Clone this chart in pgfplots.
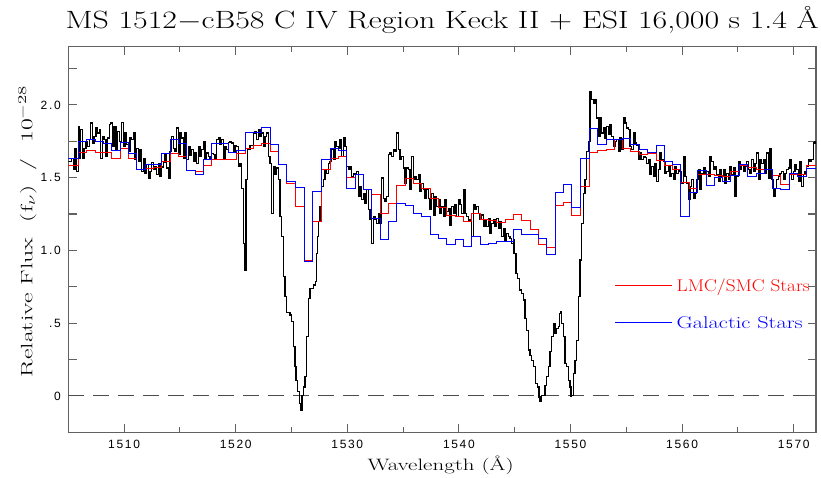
\documentclass[border=0pt]{standalone}
\usepackage{fontspec}
\usepackage{graphicx}
\usepackage{pgfplots}
\pgfplotsset{compat=1.18}
\usetikzlibrary{calc}
\newfontfamily\tickfont[LetterSpace=14]{Liberation Sans}
\begin{document}
\begin{tikzpicture}
\begin{axis}[name=ax, scale only axis, width=747.7bp, height=385.6bp,
 xmin=1505, xmax=1572, ymin=-0.25, ymax=2.4,
 axis line style={draw=black!62, line width=1.2bp},
 tick align=inside,
 xtick={1510,1520,1530,1540,1550,1560,1570},
 xticklabels={1510,1520,1530,1540,1550,1560,1570},
 minor xtick={1505,1515,1525,1535,1545,1555,1565},
 ytick={-0.25,0,0.25,0.5,0.75,1,1.25,1.5,1.75,2,2.25},
 yticklabels={,0,,.5,,1.0,,1.5,,2.0,},
 major tick length=8.5bp, minor tick length=5.5bp,
 every tick/.style={black!62, line width=1.1bp},
 ticklabel style={font=\tickfont\fontsize{12bp}{12bp}\selectfont},
 xticklabel style={yshift=-4bp},
 yticklabel style={xshift=-4bp},
]
\addplot[black!70, dash pattern=on 16bp off 9bp, line width=1bp, forget plot] coordinates {(1505,0)(1572,0)};
\addplot[black, line width=1.2bp, const plot, forget plot] coordinates {
(1505.00,1.612)(1505.30,1.634)(1505.45,1.554)(1505.60,1.703)(1505.75,1.543)(1505.90,1.853)(1505.99,1.634)(1506.11,1.830)(1506.29,1.634)(1506.41,1.703)(1506.59,1.749)(1506.71,1.715)(1506.88,1.761)(1507.00,1.876)(1507.15,1.738)(1507.30,1.784)(1507.48,1.841)(1507.60,1.807)(1507.78,1.830)(1507.90,1.634)(1508.08,1.784)(1508.20,1.761)(1508.38,1.646)(1508.50,1.772)(1508.68,1.864)(1508.80,1.876)(1508.98,1.715)(1509.09,1.853)(1509.27,1.692)(1509.39,1.818)(1509.57,1.749)(1509.78,1.880)(1509.93,1.715)(1510.08,1.807)(1510.23,1.726)(1510.38,1.680)(1510.53,1.772)(1510.68,1.761)(1510.83,1.807)(1510.98,1.623)(1511.13,1.703)(1511.27,1.612)(1511.42,1.692)(1511.57,1.543)(1511.72,1.628)(1511.87,1.531)(1512.02,1.589)(1512.17,1.497)(1512.32,1.543)(1512.47,1.605)(1512.62,1.559)(1512.77,1.577)(1512.92,1.520)(1513.07,1.600)(1513.22,1.508)(1513.37,1.573)(1513.52,1.605)(1513.66,1.657)(1513.81,1.566)(1513.96,1.497)(1514.11,1.680)(1514.26,1.784)(1514.41,1.703)(1514.56,1.680)(1514.71,1.841)(1514.86,1.657)(1515.01,1.811)(1515.16,1.772)(1515.31,1.634)(1515.46,1.807)(1515.61,1.623)(1515.76,1.715)(1515.91,1.651)(1516.05,1.692)(1516.20,1.612)(1516.35,1.669)(1516.50,1.600)(1516.65,1.715)(1516.80,1.646)(1516.95,1.692)(1517.10,1.749)(1517.25,1.623)(1517.40,1.669)(1517.55,1.646)(1517.70,1.623)(1517.85,1.664)(1517.99,1.657)(1518.14,1.634)(1518.29,1.761)(1518.44,1.772)(1518.59,1.726)(1518.74,1.761)(1518.89,1.634)(1519.04,1.715)(1519.19,1.692)(1519.34,1.742)(1519.49,1.749)(1519.64,1.738)(1519.79,1.680)(1519.94,1.719)(1520.09,1.715)(1520.24,1.577)(1520.39,1.600)(1520.54,1.428)(1520.68,1.049)(1520.77,0.865)(1520.92,1.485)(1521.04,1.692)(1521.28,1.719)(1521.58,1.807)(1521.73,1.818)(1521.88,1.761)(1522.03,1.830)(1522.18,1.784)(1522.33,1.807)(1522.48,1.715)(1522.63,1.784)(1522.77,1.807)(1522.92,1.646)(1523.07,1.600)(1523.22,1.256)(1523.37,1.577)(1523.52,1.520)(1523.67,1.566)(1523.82,1.485)(1523.97,1.233)(1524.12,1.095)(1524.27,0.820)(1524.42,0.682)(1524.57,0.572)(1524.87,0.556)(1525.02,0.510)(1525.16,0.338)(1525.31,0.200)(1525.40,0.108)(1525.52,0.028)(1525.70,-0.052)(1525.82,-0.098)(1525.94,0.005)(1526.06,0.062)(1526.21,0.131)(1526.36,0.407)(1526.51,0.671)(1526.66,0.739)(1526.96,0.762)(1527.17,0.785)(1527.26,0.980)(1527.35,1.095)(1527.45,1.198)(1527.55,1.302)(1527.70,1.439)(1527.85,1.485)(1528.00,1.554)(1528.15,1.531)(1528.30,1.600)(1528.45,1.612)(1528.60,1.692)(1528.75,1.623)(1528.90,1.749)(1529.05,1.715)(1529.19,1.700)(1529.34,1.761)(1529.49,1.646)(1529.64,1.772)(1529.79,1.715)(1529.94,1.577)(1530.09,1.554)(1530.24,1.577)(1530.39,1.508)(1530.54,1.531)(1530.69,1.520)(1530.84,1.540)(1530.99,1.370)(1531.14,1.439)(1531.29,1.348)(1531.43,1.393)(1531.58,1.325)(1531.73,1.416)(1531.88,1.279)(1532.03,1.210)(1532.18,1.049)(1532.33,1.233)(1532.48,1.210)(1532.63,1.187)(1532.78,1.256)(1532.93,1.187)(1533.08,1.497)(1533.23,1.359)(1533.38,1.336)(1533.53,1.370)(1533.68,1.657)(1533.82,1.669)(1533.97,1.646)(1534.12,1.692)(1534.27,1.680)(1534.42,1.807)(1534.57,1.692)(1534.72,1.623)(1534.87,1.646)(1535.02,1.566)(1535.17,1.462)(1535.32,1.566)(1535.47,1.554)(1535.62,1.416)(1535.77,1.646)(1535.92,1.485)(1536.06,1.508)(1536.21,1.485)(1536.36,1.520)(1536.51,1.405)(1536.66,1.462)(1536.81,1.416)(1536.96,1.359)(1537.11,1.416)(1537.26,1.359)(1537.41,1.279)(1537.56,1.393)(1537.71,1.244)(1537.86,1.370)(1538.01,1.302)(1538.16,1.348)(1538.30,1.256)(1538.45,1.302)(1538.60,1.233)(1538.75,1.348)(1538.90,1.267)(1539.05,1.290)(1539.20,1.175)(1539.35,1.302)(1539.50,1.256)(1539.65,1.313)(1539.80,1.233)(1539.95,1.348)(1540.10,1.313)(1540.25,1.256)(1540.40,1.416)(1540.55,1.256)(1540.69,1.233)(1540.84,1.198)(1540.99,1.210)(1541.14,1.095)(1541.29,1.313)(1541.44,1.279)(1541.59,1.302)(1541.74,1.256)(1541.89,1.210)(1542.04,1.244)(1542.19,1.164)(1542.34,1.210)(1542.49,1.164)(1542.64,1.221)(1542.79,1.118)(1542.94,1.187)(1543.09,1.210)(1543.23,1.164)(1543.38,1.221)(1543.53,1.152)(1543.68,1.198)(1543.83,1.095)(1543.98,1.152)(1544.13,1.072)(1544.28,1.118)(1544.43,1.095)(1544.58,1.080)(1544.73,1.049)(1544.88,1.072)(1544.94,0.980)(1545.12,0.843)(1545.24,0.808)(1545.42,0.728)(1545.63,0.705)(1545.78,0.659)(1545.93,0.533)(1546.08,0.452)(1546.23,0.315)(1546.37,0.280)(1546.52,0.246)(1546.67,0.200)(1546.88,0.085)(1547.03,0.062)(1547.18,-0.007)(1547.27,-0.041)(1547.42,0.005)(1547.57,0.005)(1547.72,0.074)(1547.87,0.131)(1548.02,0.200)(1548.17,0.303)(1548.32,0.406)(1548.47,0.498)(1548.61,0.429)(1548.76,0.464)(1548.91,0.475)(1549.00,0.567)(1549.12,0.579)(1549.21,0.498)(1549.36,0.406)(1549.51,0.223)(1549.66,0.200)(1549.81,0.108)(1549.96,0.062)(1550.04,0.000)(1550.11,0.005)(1550.26,0.154)(1550.41,0.246)(1550.56,0.383)(1550.71,0.682)(1550.85,0.934)(1551.00,1.187)(1551.15,1.393)(1551.30,1.485)(1551.45,1.680)(1551.60,1.749)(1551.75,2.094)(1551.90,2.036)(1552.05,2.013)(1552.20,2.036)(1552.35,1.910)(1552.49,1.784)(1552.64,1.910)(1552.79,1.807)(1552.94,1.841)(1553.09,1.772)(1553.24,1.853)(1553.39,1.795)(1553.54,1.864)(1553.69,1.784)(1553.84,1.715)(1553.99,1.749)(1554.14,1.761)(1554.29,1.680)(1554.44,1.772)(1554.59,1.692)(1554.73,1.910)(1554.88,1.876)(1555.03,1.841)(1555.18,1.830)(1555.33,1.715)(1555.48,1.692)(1555.63,1.807)(1555.78,1.738)(1555.93,1.720)(1556.08,1.623)(1556.23,1.669)(1556.38,1.623)(1556.53,1.646)(1556.68,1.640)(1556.83,1.600)(1556.98,1.623)(1557.12,1.520)(1557.27,1.577)(1557.42,1.508)(1557.57,1.600)(1557.72,1.474)(1557.87,1.554)(1558.02,1.669)(1558.17,1.623)(1558.32,1.612)(1558.47,1.531)(1558.62,1.543)(1558.77,1.577)(1558.92,1.508)(1559.07,1.531)(1559.22,1.485)(1559.36,1.577)(1559.51,1.531)(1559.66,1.554)(1559.81,1.543)(1559.96,1.462)(1560.11,1.646)(1560.26,1.508)(1560.41,1.462)(1560.56,1.348)(1560.71,1.439)(1560.86,1.485)(1561.01,1.359)(1561.16,1.393)(1561.31,1.485)(1561.46,1.554)(1561.60,1.416)(1561.75,1.531)(1561.90,1.566)(1562.05,1.531)(1562.20,1.543)(1562.35,1.508)(1562.50,1.646)(1562.65,1.612)(1562.80,1.554)(1562.95,1.577)(1563.10,1.520)(1563.25,1.474)(1563.40,1.554)(1563.55,1.508)(1563.70,1.554)(1563.85,1.462)(1564.00,1.531)(1564.14,1.485)(1564.29,1.577)(1564.44,1.520)(1564.59,1.566)(1564.74,1.370)(1564.89,1.508)(1565.04,1.612)(1565.19,1.554)(1565.34,1.589)(1565.49,1.543)(1565.64,1.577)(1565.79,1.612)(1565.94,1.554)(1566.09,1.531)(1566.23,1.623)(1566.38,1.543)(1566.53,1.600)(1566.68,1.669)(1566.83,1.485)(1566.98,1.623)(1567.13,1.600)(1567.28,1.623)(1567.43,1.531)(1567.58,1.669)(1567.73,1.497)(1567.88,1.703)(1568.03,1.485)(1568.18,1.370)(1568.33,1.428)(1568.47,1.485)(1568.62,1.508)(1568.77,1.531)(1568.92,1.543)(1569.07,1.485)(1569.22,1.531)(1569.37,1.554)(1569.52,1.566)(1569.67,1.623)(1569.82,1.485)(1569.97,1.543)(1570.12,1.589)(1570.27,1.554)(1570.42,1.474)(1570.57,1.612)(1570.71,1.439)(1570.86,1.520)(1571.01,1.543)(1571.16,1.577)(1571.31,1.623)(1571.46,1.612)(1571.61,1.623)(1571.76,1.738)(1571.91,1.749)(1572.06,1.692)
};
\addplot[color=red, line width=0.9bp, const plot, forget plot] coordinates {
(1505.0,1.582)(1505.90,1.674)(1506.65,1.687)(1507.39,1.676)(1508.14,1.676)(1508.89,1.630)(1509.63,1.703)(1510.38,1.634)(1511.13,1.559)(1511.87,1.566)(1512.62,1.573)(1513.37,1.612)(1514.11,1.669)(1514.86,1.646)(1515.61,1.550)(1516.35,1.543)(1517.10,1.582)(1517.85,1.628)(1518.59,1.623)(1519.34,1.628)(1520.09,1.664)(1520.83,1.703)(1521.58,1.719)(1522.33,1.733)(1523.07,1.680)(1523.82,1.589)(1524.57,1.462)(1525.31,1.302)(1526.12,0.930)(1526.89,1.198)(1527.70,1.554)(1528.45,1.630)(1529.19,1.646)(1529.94,1.501)(1530.69,1.520)(1531.43,1.421)(1532.18,1.387)(1532.93,1.256)(1533.68,1.325)(1534.42,1.449)(1535.17,1.492)(1535.92,1.462)(1536.66,1.423)(1537.41,1.354)(1538.16,1.297)(1538.90,1.237)(1539.65,1.233)(1540.40,1.198)(1541.14,1.251)(1541.89,1.210)(1542.64,1.205)(1543.38,1.194)(1544.13,1.214)(1544.88,1.244)(1545.62,1.205)(1546.37,1.141)(1547.12,1.038)(1547.86,1.019)(1548.61,1.306)(1549.36,1.332)(1550.10,1.240)(1550.91,1.439)(1551.69,1.674)(1552.41,1.687)(1553.18,1.696)(1553.90,1.761)(1554.68,1.703)(1555.39,1.680)(1556.17,1.657)(1556.89,1.664)(1557.66,1.618)(1558.38,1.582)(1559.16,1.554)(1559.87,1.467)(1560.65,1.428)(1561.37,1.524)(1562.14,1.520)(1562.86,1.513)(1563.64,1.508)(1564.35,1.543)(1565.13,1.582)(1565.85,1.573)(1566.62,1.559)(1567.34,1.554)(1568.12,1.513)(1568.83,1.455)(1569.61,1.520)(1570.33,1.524)(1571.10,1.582)(1572.0,1.582)
};
\addplot[color=blue, line width=0.9bp, const plot, forget plot] coordinates {
(1505.0,1.634)(1505.90,1.749)(1506.65,1.761)(1507.39,1.749)(1508.14,1.738)(1508.89,1.687)(1509.63,1.745)(1510.38,1.664)(1511.13,1.559)(1511.87,1.593)(1512.62,1.593)(1513.37,1.664)(1514.11,1.765)(1514.86,1.738)(1515.61,1.550)(1516.35,1.520)(1517.10,1.628)(1517.85,1.733)(1518.59,1.733)(1519.34,1.674)(1520.09,1.685)(1520.83,1.814)(1521.58,1.814)(1522.33,1.846)(1523.07,1.726)(1523.82,1.589)(1524.57,1.474)(1525.31,1.435)(1526.12,0.923)(1526.89,1.405)(1527.70,1.623)(1528.45,1.703)(1529.19,1.685)(1529.94,1.428)(1530.69,1.520)(1531.43,1.421)(1532.18,1.221)(1532.93,1.077)(1533.68,1.198)(1534.42,1.320)(1535.17,1.309)(1535.92,1.256)(1536.66,1.233)(1537.41,1.107)(1538.16,1.079)(1538.90,1.042)(1539.65,1.072)(1540.40,1.026)(1541.14,1.095)(1541.89,1.042)(1542.64,1.049)(1543.38,1.061)(1544.13,1.065)(1544.88,1.141)(1545.62,1.107)(1546.37,1.107)(1547.12,1.084)(1547.86,0.969)(1548.61,1.398)(1549.36,1.451)(1550.10,1.297)(1550.91,1.634)(1551.69,1.841)(1552.41,1.731)(1553.18,1.761)(1553.90,1.765)(1554.68,1.772)(1555.39,1.726)(1556.17,1.692)(1556.89,1.674)(1557.66,1.722)(1558.38,1.612)(1559.16,1.589)(1559.87,1.233)(1560.65,1.400)(1561.37,1.550)(1562.14,1.444)(1562.86,1.504)(1563.64,1.474)(1564.35,1.513)(1565.13,1.589)(1565.85,1.508)(1566.62,1.531)(1567.34,1.559)(1568.12,1.428)(1568.83,1.416)(1569.61,1.527)(1570.33,1.508)(1571.10,1.566)(1572.0,1.566)
};
\addplot[color=red, line width=1.2bp, forget plot] coordinates {(1554.0,0.757)(1559.1,0.757)};
\addplot[color=blue, line width=1bp, forget plot] coordinates {(1554.0,0.505)(1559.1,0.505)};
\node[anchor=base west, text=red, inner sep=0pt, font=\fontsize{17bp}{18bp}\selectfont] at (axis cs:1559.5,0.716) {\resizebox{133bp}{\height}{LMC/SMC Stars}};
\node[anchor=base west, text=blue, inner sep=0pt, font=\fontsize{17bp}{18bp}\selectfont] at (axis cs:1559.5,0.464) {\resizebox{126bp}{\height}{Galactic Stars}};
\end{axis}
\node[anchor=base, inner sep=0pt, font=\fontsize{25bp}{26bp}\selectfont] at ($(ax.north)+(0,18bp)$) {\resizebox{753bp}{\height}{MS 1512$-$cB58 C IV Region Keck II + ESI 16,000 s 1.4 Å}};
\node[anchor=base, inner sep=0pt, font=\fontsize{16.5bp}{17bp}\selectfont] at ($(ax.south)+(-1.5bp,-38.4bp)$) {\resizebox{146bp}{\height}{Wavelength (Å)}};
\node[rotate=90, anchor=base, inner sep=0pt, font=\fontsize{16.5bp}{17bp}\selectfont] at ($(ax.south west)!0.521!(ax.north west)+(-36bp,0)$) {\resizebox{292bp}{\height}{Relative\ Flux\ \ (f$_\nu$)\ \ /\ \ 10$^{-28}$}};
\pgfresetboundingbox
\path (ax.south west) ++(-68.3bp,-45.7bp) rectangle ++(821bp,478bp);
\end{tikzpicture}
\end{document}
